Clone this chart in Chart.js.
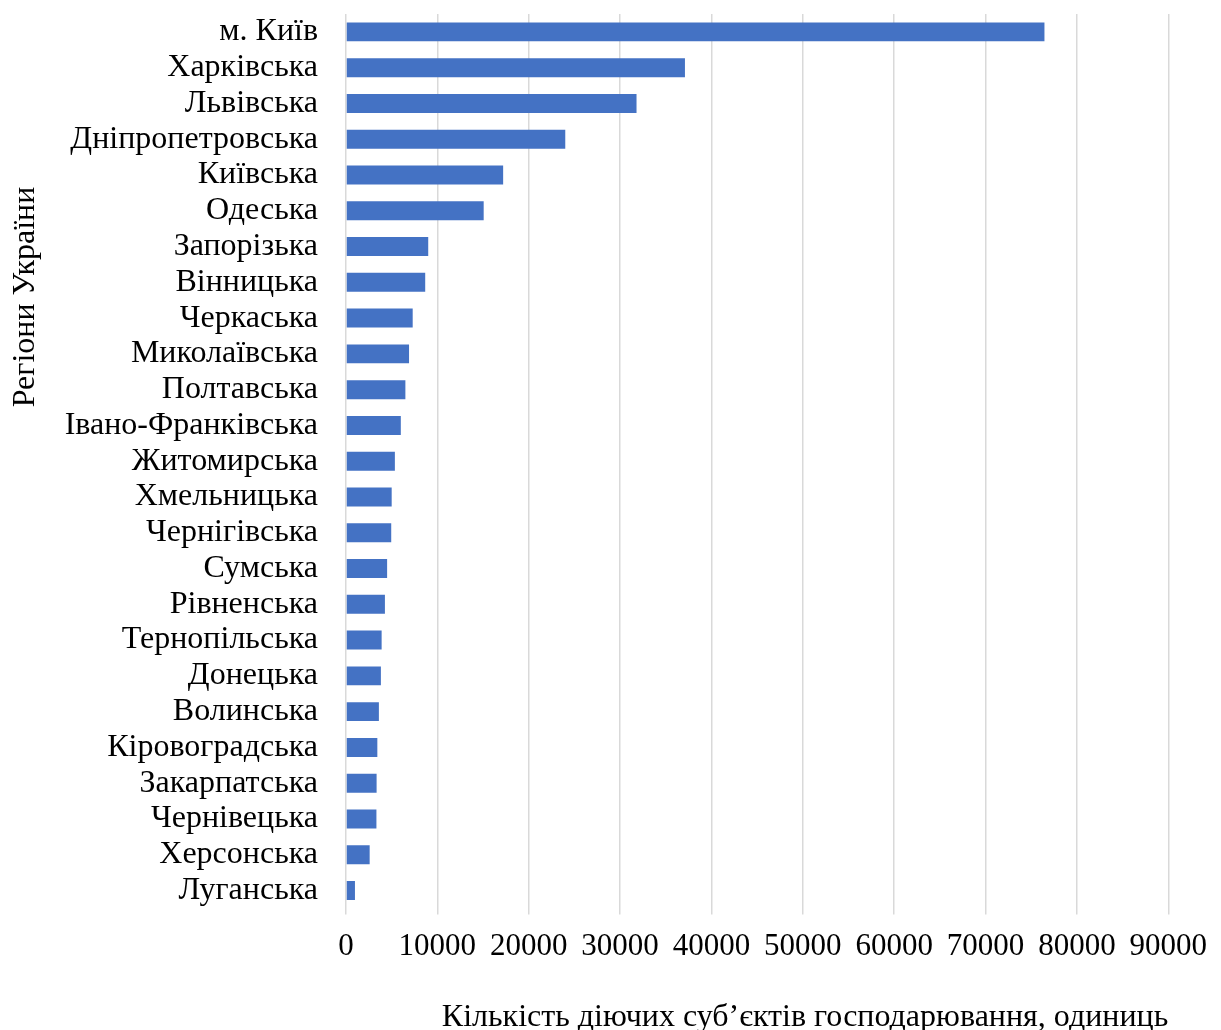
<!DOCTYPE html>
<html>
<head>
<meta charset="utf-8">
<script src="https://cdn.jsdelivr.net/npm/chart.js@4.4.1/dist/chart.umd.min.js"></script>
<style>
  body { margin: 0; background: #fff; }
  #wrap { width: 1221px; height: 1030px; }
</style>
</head>
<body>
<div id="wrap"><canvas id="barChart" width="1221" height="1030"></canvas></div>
<script>
// Регіони та кількість діючих суб'єктів господарювання
const regions = ['м. Київ', 'Харківська', 'Львівська', 'Дніпропетровська', 'Київська', 'Одеська',
    'Запорізька', 'Вінницька', 'Черкаська', 'Миколаївська', 'Полтавська', 'Івано-Франківська',
    'Житомирська', 'Хмельницька', 'Чернігівська', 'Сумська', 'Рівненська', 'Тернопільська',
    'Донецька', 'Волинська', 'Кіровоградська', 'Закарпатська', 'Чернівецька', 'Херсонська', 'Луганська'];
const subjects = [76450, 37100, 31800, 24000, 17200, 15070,
    9000, 8670, 7300, 6900, 6500, 6000,
    5350, 5000, 4950, 4500, 4260, 3900,
    3820, 3600, 3430, 3350, 3330, 2590, 980];
const xTicksMax = 90000;
const xTicksStep = 10000;

const yTitle = 'Регіони України';
const xTitle = 'Кількість діючих суб’єктів господарювання, одиниць';

const serif = "'Liberation Serif', 'Times New Roman', serif";

// підпис осі Y малюємо окремо (в оригіналі він не по центру)
const yTitlePlugin = {
    id: 'yTitle',
    afterDraw(chart) {
        const c = chart.ctx;
        c.save();
        c.translate(26, 297);
        c.rotate(-Math.PI / 2);
        c.font = "32px " + serif;
        c.fillStyle = '#000';
        c.textAlign = 'center';
        c.textBaseline = 'middle';
        c.fillText(yTitle, 0, 0);
        c.restore();
    }
};

const ctx = document.getElementById('barChart').getContext('2d');
const chart = new Chart(ctx, {
    type: 'bar',
    data: {
        labels: regions,
        datasets: [{
            data: subjects,
            backgroundColor: '#4472C4',
            barPercentage: 0.53,
            categoryPercentage: 1.0
        }]
    },
    options: {
        indexAxis: 'y',
        responsive: false,
        animation: false,
        layout: { padding: { top: 14, right: 5, left: 0, bottom: 0 } },
        plugins: {
            legend: { display: false },
            tooltip: { enabled: false }
        },
        scales: {
            x: {
                min: 0,
                max: xTicksMax,
                ticks: {
                    stepSize: xTicksStep,
                    color: '#000',
                    padding: 14,
                    maxRotation: 0,
                    font: { family: serif, size: 31 },
                    callback: (v) => String(v)
                },
                grid: { color: '#d9d9d9', lineWidth: 1.5, tickLength: 6 },
                border: { display: false },
                title: {
                    display: true,
                    text: xTitle,
                    align: 'end',
                    color: '#000',
                    font: { family: serif, size: 32 },
                    padding: { top: 19, bottom: -7 }
                }
            },
            y: {
                grid: { display: false, drawTicks: false },
                border: { display: false },
                ticks: {
                    color: '#000',
                    padding: 28,
                    autoSkip: false,
                    font: { family: serif, size: 32 }
                },
                afterFit(scale) {
                    scale.width = 346;
                    scale.paddingTop = 0;
                    scale.paddingBottom = 0;
                }
            }
        }
    },
    plugins: [yTitlePlugin]
});
</script>
</body>
</html>
